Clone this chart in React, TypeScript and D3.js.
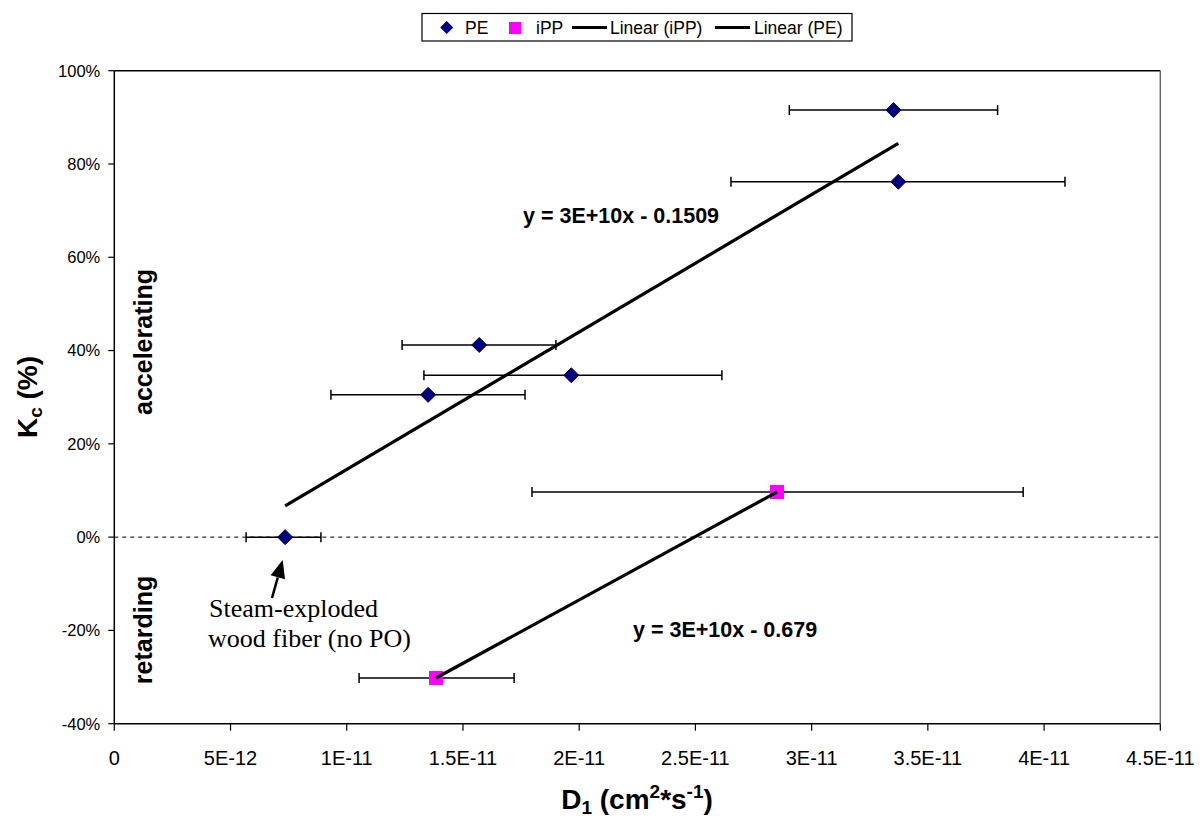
import React from "react";
import * as d3 from "d3";

// ---- data ----
const peD = [7.35e-12, 13.5e-12, 15.7e-12, 19.66e-12, 33.52e-12, 33.73e-12];
const peK = [0.0, 0.305, 0.412, 0.347, 0.9155, 0.762];
const peLo = [5.67e-12, 9.32e-12, 12.38e-12, 13.32e-12, 29.04e-12, 26.53e-12];
const peHi = [8.89e-12, 17.67e-12, 19.0e-12, 26.14e-12, 38.0e-12, 40.9e-12];

const ippD = [28.51e-12, 13.84e-12];
const ippK = [0.0967, -0.302];
const ippLo = [17.97e-12, 10.53e-12];
const ippHi = [39.1e-12, 17.2e-12];

const xTicks = [0, 5e-12, 1e-11, 1.5e-11, 2e-11, 2.5e-11, 3e-11, 3.5e-11, 4e-11, 4.5e-11];
const xTickLabels = ["0", "5E-12", "1E-11", "1.5E-11", "2E-11", "2.5E-11", "3E-11", "3.5E-11", "4E-11", "4.5E-11"];
const yTicks = [-0.4, -0.2, 0, 0.2, 0.4, 0.6, 0.8, 1.0];
const yTickLabels = ["-40%", "-20%", "0%", "20%", "40%", "60%", "80%", "100%"];

const eqLabels = ["y = 3E+10x - 0.1509", "y = 3E+10x - 0.679"];
const annotationLines = ["Steam-exploded", "wood fiber (no PO)"];

const SANS = "'Liberation Sans', Arial, sans-serif";
const SERIF = "'Liberation Serif', 'Times New Roman', serif";

function regress(xs: number[], ys: number[]) {
  const mx = d3.mean(xs)!;
  const my = d3.mean(ys)!;
  let sxy = 0, sxx = 0;
  xs.forEach((x, i) => {
    sxy += (x - mx) * (ys[i] - my);
    sxx += (x - mx) * (x - mx);
  });
  const m = sxy / sxx;
  return { m, b: my - m * mx };
}

export default function App() {
  const W = 1200, H = 821;
  const x = d3.scaleLinear().domain([0, 4.5e-11]).range([114.3, 1160.3]);
  const y = d3.scaleLinear().domain([-0.4, 1.0]).range([723.7, 70.7]);

  const pe = peD.map((d, i) => ({ d, k: peK[i], lo: peLo[i], hi: peHi[i] }));
  const ipp = ippD.map((d, i) => ({ d, k: ippK[i], lo: ippLo[i], hi: ippHi[i] }));

  const peFit = regress(peD, peK);
  const ippFit = regress(ippD, ippK);
  const line = d3.line<number[]>().x((p) => x(p[0])).y((p) => y(p[1]));
  const peExt = d3.extent(peD) as [number, number];
  const ippExt = d3.extent(ippD) as [number, number];
  const peLine = line(peExt.map((v) => [v, peFit.m * v + peFit.b]));
  const ippLine = line(ippExt.map((v) => [v, ippFit.m * v + ippFit.b]));

  const x0 = x.range()[0], x1 = x.range()[1];
  const yTop = y.range()[1], yBot = y.range()[0];

  const errBar = (p: { d: number; k: number; lo: number; hi: number }, key: string) => (
    <g key={key} stroke="#000" strokeWidth={1.5}>
      <line x1={x(p.lo)} x2={x(p.hi)} y1={y(p.k)} y2={y(p.k)} />
      <line x1={x(p.lo)} x2={x(p.lo)} y1={y(p.k) - 5} y2={y(p.k) + 5} />
      <line x1={x(p.hi)} x2={x(p.hi)} y1={y(p.k) - 5} y2={y(p.k) + 5} />
    </g>
  );

  const diamond = (cx: number, cy: number, r: number) =>
    `M${cx},${cy - r}L${cx + r},${cy}L${cx},${cy + r}L${cx - r},${cy}Z`;

  // arrow
  const ax0 = 272, ay0 = 598, ax1 = 282.7, ay1 = 560;
  const ang = Math.atan2(ay1 - ay0, ax1 - ax0);
  const hl = 18, hw = 7.5;
  const bx = ax1 - hl * Math.cos(ang), by = ay1 - hl * Math.sin(ang);
  const px = -Math.sin(ang), py = Math.cos(ang);
  const head = `M${ax1},${ay1}L${bx + hw * px},${by + hw * py}L${bx - hw * px},${by - hw * py}Z`;

  return (
    <svg width={W} height={H} style={{ position: "absolute", left: 0, top: 0, background: "#fff" }}>
      <rect x={0} y={0} width={W} height={H} fill="#fff" />
      {/* plot frame */}
      <line x1={x0} x2={x1} y1={yTop} y2={yTop} stroke="#000" strokeWidth={1.5} />
      <line x1={x1} x2={x1} y1={yTop} y2={yBot} stroke="#666" strokeWidth={1.5} />
      {/* zero dashed line */}
      <line x1={x0} x2={x1} y1={y(0)} y2={y(0)} stroke="#000" strokeWidth={1} strokeDasharray="4,4" />
      {/* axes */}
      <line x1={x0} x2={x0} y1={yTop} y2={yBot} stroke="#000" strokeWidth={1.5} />
      <line x1={x0} x2={x1} y1={yBot} y2={yBot} stroke="#000" strokeWidth={1.5} />
      {yTicks.map((t, i) => (
        <g key={"yt" + i}>
          <line x1={x0 - 6} x2={x0} y1={y(t)} y2={y(t)} stroke="#000" strokeWidth={1.2} />
          <text x={x0 - 14} y={y(t)} dy="0.36em" textAnchor="end" fontFamily={SANS} fontSize={16.5} fill="#000">
            {yTickLabels[i]}
          </text>
        </g>
      ))}
      {xTicks.map((t, i) => (
        <g key={"xt" + i}>
          <line x1={x(t)} x2={x(t)} y1={yBot} y2={yBot + 7} stroke="#000" strokeWidth={1.2} />
          <text x={x(t)} y={765} textAnchor="middle" fontFamily={SANS} fontSize={20} fill="#000">
            {xTickLabels[i]}
          </text>
        </g>
      ))}

      {/* error bars */}
      {pe.map((p, i) => errBar(p, "pe" + i))}
      {ipp.map((p, i) => errBar(p, "ipp" + i))}

      {/* markers */}
      {pe.map((p, i) => (
        <path key={"pm" + i} d={diamond(x(p.d), y(p.k), 7.5)} fill="#000080" stroke="#000050" strokeWidth={1} />
      ))}
      {ipp.map((p, i) => (
        <rect key={"im" + i} x={x(p.d) - 7} y={y(p.k) - 7} width={14} height={14} fill="#FF00FF" />
      ))}

      {/* trendlines */}
      <path d={peLine || ""} stroke="#000" strokeWidth={3.2} fill="none" />
      <path d={ippLine || ""} stroke="#000" strokeWidth={3.2} fill="none" />

      {/* equations */}
      <text x={523} y={223} fontFamily={SANS} fontWeight="bold" fontSize={21.5} fill="#000">{eqLabels[0]}</text>
      <text x={633} y={637} fontFamily={SANS} fontWeight="bold" fontSize={21.5} fill="#000">{eqLabels[1]}</text>

      {/* annotation */}
      <text x={209} y={617} fontFamily={SERIF} fontSize={26} fill="#000">{annotationLines[0]}</text>
      <text x={208} y={647} fontFamily={SERIF} fontSize={26} fill="#000">{annotationLines[1]}</text>
      <line x1={ax0} y1={ay0} x2={bx} y2={by} stroke="#000" strokeWidth={2.5} />
      <path d={head} fill="#000" />

      {/* region labels */}
      <text transform="translate(152,342) rotate(-90)" textAnchor="middle" fontFamily={SANS} fontWeight="bold" fontSize={25} fill="#000">accelerating</text>
      <text transform="translate(152,630) rotate(-90)" textAnchor="middle" fontFamily={SANS} fontWeight="bold" fontSize={25} fill="#000">retarding</text>

      {/* axis titles */}
      <text transform="translate(37,397) rotate(-90)" textAnchor="middle" fontFamily={SANS} fontWeight="bold" fontSize={28} fill="#000">
        K<tspan fontSize={19} dy={5}>c</tspan><tspan dy={-5}> (%)</tspan>
      </text>
      <text x={637} y={809} textAnchor="middle" fontFamily={SANS} fontWeight="bold" fontSize={28} fill="#000">
        D<tspan fontSize={19} dy={5}>1</tspan><tspan dy={-5}> (cm</tspan><tspan fontSize={19} dy={-11}>2</tspan><tspan dy={11}>*s</tspan><tspan fontSize={19} dy={-11}>-1</tspan><tspan dy={11}>)</tspan>
      </text>

      {/* legend */}
      <g fontFamily={SANS} fontSize={17.5} fill="#000">
        <rect x={422} y={13.5} width={430} height={27.5} fill="#fff" stroke="#000" strokeWidth={1.2} />
        <path d={diamond(446.7, 27.5, 6.5)} fill="#000080" />
        <text x={465} y={33.5}>PE</text>
        <rect x={509} y={22} width={12} height={12} fill="#FF00FF" />
        <text x={536} y={33.5}>iPP</text>
        <line x1={572} x2={607} y1={27.5} y2={27.5} stroke="#000" strokeWidth={3} />
        <text x={610} y={33.5}>Linear (iPP)</text>
        <line x1={715} x2={750} y1={27.5} y2={27.5} stroke="#000" strokeWidth={3} />
        <text x={754} y={33.5}>Linear (PE)</text>
      </g>
    </svg>
  );
}
